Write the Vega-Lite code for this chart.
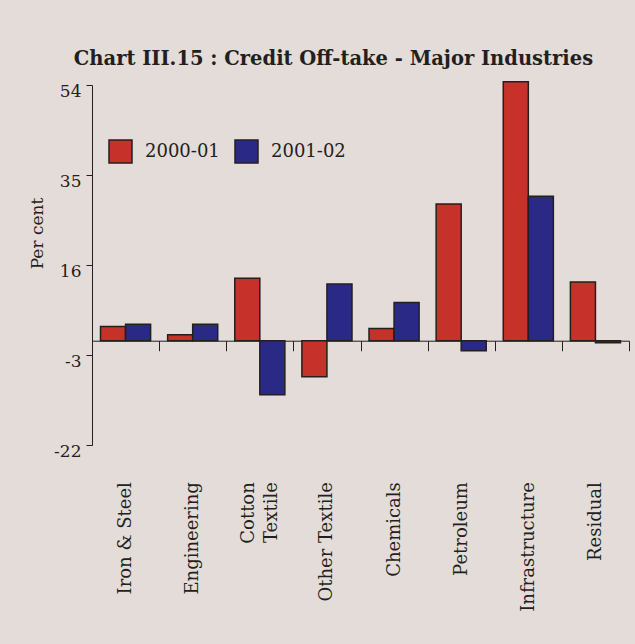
{
  "$schema": "https://vega.github.io/schema/vega-lite/v6.json",
  "autosize": {"type": "none"},
  "width": 537,
  "height": 360,
  "padding": {"left": 92, "top": 85, "right": 6, "bottom": 199},
  "background": "#e4dcd8",
  "title": {
    "text": "Chart III.15 : Credit Off-take - Major Industries",
    "font": "DejaVu Serif",
    "fontSize": 19.5,
    "fontWeight": "bold",
    "color": "#231f20",
    "anchor": "middle",
    "frame": "group",
    "dx": -27,
    "offset": -4,
    "baseline": "alphabetic"
  },
  "config": {
    "view": {"stroke": null},
    "axis": {"grid": false, "domainColor": "#231f20", "tickColor": "#231f20", "labelColor": "#231f20", "titleColor": "#231f20", "labelFont": "DejaVu Serif", "titleFont": "DejaVu Serif"}
  },
  "data": {
    "values": [
      {"industry": "Iron & Steel", "year": "2000-01", "value": 3.0},
      {"industry": "Iron & Steel", "year": "2001-02", "value": 3.5},
      {"industry": "Engineering", "year": "2000-01", "value": 1.3},
      {"industry": "Engineering", "year": "2001-02", "value": 3.5},
      {"industry": "Cotton Textile", "year": "2000-01", "value": 13.2},
      {"industry": "Cotton Textile", "year": "2001-02", "value": -11.4},
      {"industry": "Other Textile", "year": "2000-01", "value": -7.6},
      {"industry": "Other Textile", "year": "2001-02", "value": 12.0},
      {"industry": "Chemicals", "year": "2000-01", "value": 2.6},
      {"industry": "Chemicals", "year": "2001-02", "value": 8.1},
      {"industry": "Petroleum", "year": "2000-01", "value": 28.9},
      {"industry": "Petroleum", "year": "2001-02", "value": -2.1},
      {"industry": "Infrastructure", "year": "2000-01", "value": 54.7},
      {"industry": "Infrastructure", "year": "2001-02", "value": 30.5},
      {"industry": "Residual", "year": "2000-01", "value": 12.4},
      {"industry": "Residual", "year": "2001-02", "value": -0.4}
    ]
  },
  "mark": {"type": "bar", "stroke": "#231f20", "strokeWidth": 1.5},
  "encoding": {
    "x": {
      "field": "industry",
      "type": "nominal",
      "sort": null,
      "scale": {"paddingInner": 0, "paddingOuter": 0},
      "axis": {
        "title": null,
        "offset": -104.3,
        "tickBand": "extent",
        "tickSize": 10,
        "labelAngle": -90,
        "labelAlign": "right",
        "labelBaseline": "middle",
        "labelPadding": 131,
        "labelFontSize": 18,
        "labelLineHeight": 23,
        "labelOffset": {"condition": {"test": "datum.value == 'Cotton Textile'", "value": -11.5}, "value": 0},
        "labelExpr": "datum.value == 'Cotton Textile' ? ['Cotton', 'Textile'] : datum.value"
      }
    },
    "xOffset": {
      "field": "year",
      "type": "nominal",
      "scale": {"paddingInner": 0, "paddingOuter": 0.34}
    },
    "y": {
      "field": "value",
      "type": "quantitative",
      "scale": {"domain": [-22, 54], "nice": false},
      "axis": {
        "title": "Per cent",
        "values": [-22, -3, 16, 35, 54],
        "labelExpr": "datum.value + ''",
        "tickSize": 6,
        "labelBaseline": "top",
        "labelOffset": -2,
        "labelPadding": 5,
        "labelFontSize": 17,
        "titleFontSize": 17,
        "titleFontWeight": "normal",
        "titleAngle": -90,
        "titleX": -55,
        "titleY": 148,
        "titleAlign": "center",
        "titleBaseline": "middle"
      }
    },
    "color": {
      "field": "year",
      "type": "nominal",
      "scale": {"domain": ["2000-01", "2001-02"], "range": ["#c6322a", "#2a2986"]},
      "legend": {
        "orient": "none",
        "legendX": 16,
        "legendY": 54,
        "direction": "horizontal",
        "title": null,
        "padding": 0,
        "symbolType": "square",
        "symbolSize": 529,
        "symbolStrokeColor": "#231f20",
        "symbolStrokeWidth": 1.5,
        "symbolOpacity": 1,
        "labelFont": "DejaVu Serif",
        "labelFontSize": 18,
        "labelColor": "#231f20",
        "labelOffset": 12,
        "columnPadding": 12
      }
    }
  }
}
